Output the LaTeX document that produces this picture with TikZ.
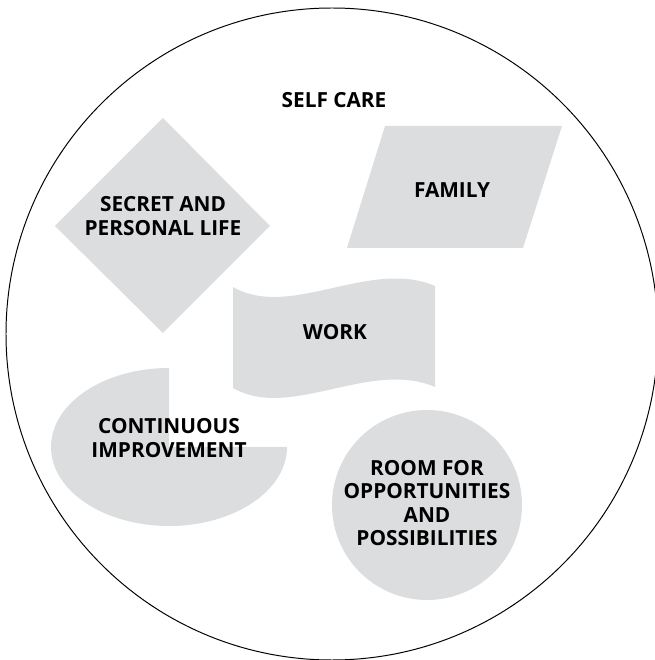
\documentclass[tikz,border=0pt]{standalone}
\usepackage{fontspec}
\setmainfont{Open Sans}
\definecolor{shapegray}{HTML}{DCDDDE}
\usepackage{tikz}
\usetikzlibrary{positioning}

\tikzset{
  label/.style={align=center, font=\fontsize{14.8}{16.8}\selectfont\bfseries, inner sep=0pt},
}

\begin{document}
\begin{tikzpicture}[x=0.025cm, y=0.025cm]
  \useasboundingbox (0,0) rectangle (655,660);

  % Outer ring
  \draw[line width=0.7pt] (332,326) circle[radius=326];
  \node[label] (selfcare) at (334,560) {SELF CARE};

  % Diamond
  \fill[shapegray] (163,542) -- (270,434) -- (163,327) -- (55,434) -- cycle;
  \node[label] (secret) at (163,444) {SECRET AND\\PERSONAL LIFE};

  % Parallelogram
  \fill[shapegray] (385,534) -- (562,534) -- (523,412) -- (347,412) -- cycle;
  \node[label] (family) at (452,470) {FAMILY};

  % Wave
  \fill[shapegray] (233,373) .. controls (290,340) and (370,402) .. (435,374)
    -- (435,273) .. controls (370,301) and (290,239) .. (233,272) -- cycle;
  \node[label] (work) at (335,328) {WORK};

  % Ellipse with a quarter cut out
  \fill[shapegray] (169,213) -- (169,292)
    arc[start angle=90, end angle=360, x radius=118, y radius=79] -- cycle;
  \node[label] (improve) at (169,222) {CONTINUOUS\\IMPROVEMENT};

  % Circle
  \fill[shapegray] (427,155) circle[radius=95];
  \node[label] (room) at (427,157) {ROOM FOR\\OPPORTUNITIES\\AND\\POSSIBILITIES};
\end{tikzpicture}
\end{document}
